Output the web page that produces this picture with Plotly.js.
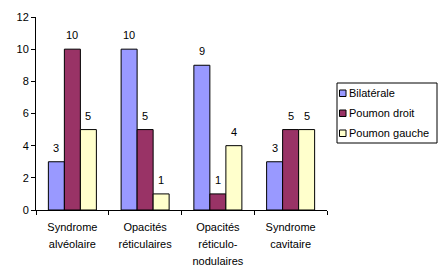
<!DOCTYPE html>
<html><head><meta charset="utf-8">
<script src="https://cdn.plot.ly/plotly-3.0.1.min.js"></script>
<style>body{margin:0;background:#fff}#c{width:440px;height:266px}</style>
</head><body><div id="c"></div>
<script>
var categories = ["Syndrome<br>alvéolaire", "Opacités<br>réticulaires", "Opacités<br>réticulo-<br>nodulaires", "Syndrome<br>cavitaire"];
var bilaterale = [3, 10, 9, 3];
var poumonDroit = [10, 5, 1, 5];
var poumonGauche = [5, 1, 4, 5];
var seriesNames = ["Bilatérale", "Poumon droit", "Poumon gauche"];
var colors = ["#9999FF", "#993366", "#FFFFCC"];
var vals = [bilaterale, poumonDroit, poumonGauche];

var FAM = "Liberation Sans, Arial, sans-serif";
var font = {family: FAM, size: 11, color: "#000"};
var L = 36, R = 327, T = 17, B = 210;
function px(x){ return (x - L) / (R - L); }
function py(y){ return (B - y) / (B - T); }

var traces = vals.map(function(v, i){
  return {type: "bar", x: categories, y: v, name: seriesNames[i],
    marker: {color: colors[i], line: {color: "#000", width: 1}},
    hoverinfo: "skip", showlegend: false};
});

var annotations = [];
var shapes = [];
vals.forEach(function(v, i){
  v.forEach(function(val, j){
    annotations.push({x: categories[j], y: val, xref: "x", yref: "y",
      text: String(val), showarrow: false, font: font,
      xanchor: "center", yanchor: "middle", xshift: (i - 1) * 16, yshift: 14});
  });
});
// legend box built from series names / colours
shapes.push({type: "rect", xref: "paper", yref: "paper",
  x0: px(337), x1: px(437), y0: py(143), y1: py(83),
  line: {color: "#000", width: 1}, fillcolor: "rgba(0,0,0,0)"});
seriesNames.forEach(function(n, i){
  var cy = 93 + i * 20;
  shapes.push({type: "rect", xref: "paper", yref: "paper",
    x0: px(339.5), x1: px(346), y0: py(cy + 3.5), y1: py(cy - 3),
    line: {color: "#000", width: 1}, fillcolor: colors[i]});
  annotations.push({xref: "paper", yref: "paper", x: px(347), y: py(cy),
    xanchor: "left", yanchor: "middle", text: n, showarrow: false, font: font});
});

var tickText = categories.map(function(c){
  return c.split("<br>").map(function(s){ return '<span style="font-size:11px">' + s + '</span>'; }).join("<br>");
});

var layout = {
  width: 440, height: 266,
  margin: {l: L, r: 440 - R, t: T, b: 266 - B},
  paper_bgcolor: "#fff", plot_bgcolor: "#fff",
  font: font,
  barmode: "group", bargap: 0.34, bargroupgap: 0,
  showlegend: false,
  annotations: annotations, shapes: shapes,
  xaxis: {showline: true, linecolor: "#000", linewidth: 1, ticks: "outside",
    tickson: "boundaries", ticklen: 4, tickcolor: "#000",
    tickfont: {family: FAM, size: 12.8, color: "#000"},
    tickvals: categories, ticktext: tickText, ticklabelstandoff: 5,
    showgrid: false, zeroline: false, fixedrange: true},
  yaxis: {range: [0, 12], dtick: 2, showline: true, linecolor: "#000", linewidth: 1,
    ticks: "outside", ticklen: 4, tickcolor: "#000", tickfont: font,
    showgrid: false, zeroline: false, fixedrange: true}
};
Plotly.newPlot("c", traces, layout, {displayModeBar: false, staticPlot: true});
</script></body></html>
